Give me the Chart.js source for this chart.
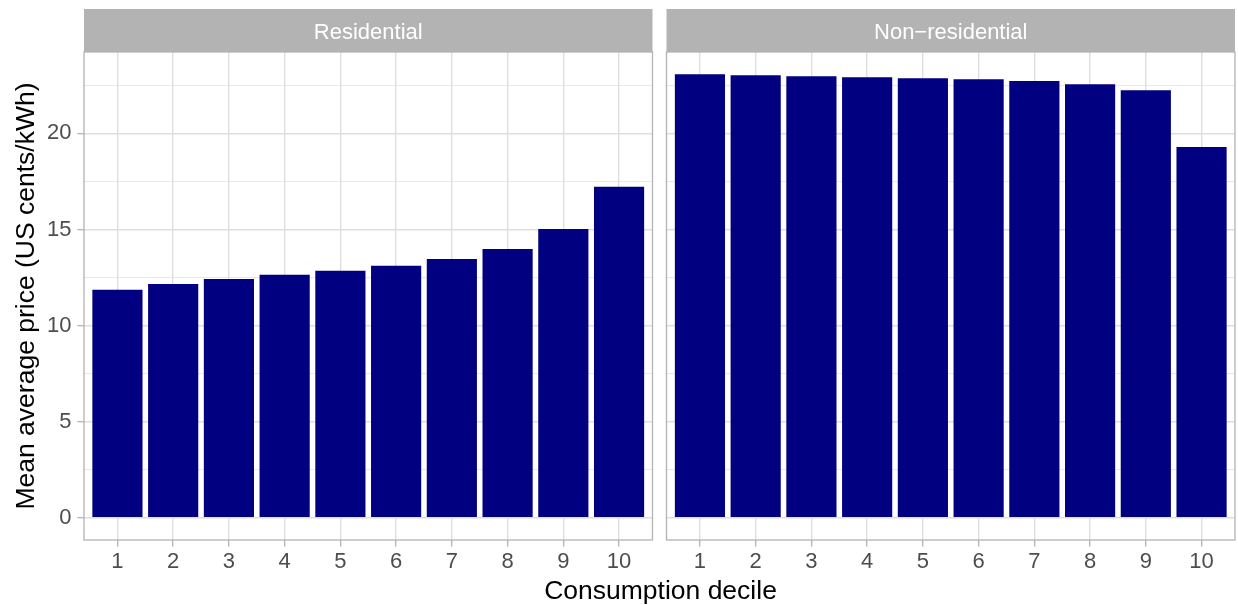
<!DOCTYPE html>
<html>
<head>
<meta charset="utf-8">
<title>Mean average electricity price by consumption decile</title>
<script src="https://cdn.jsdelivr.net/npm/chart.js@4.4.1/dist/chart.umd.min.js"></script>
<style>
  html, body { margin: 0; padding: 0; background: #ffffff; }
  #wrap { position: relative; width: 1238px; height: 605px; overflow: hidden; }
  #wrap canvas { position: absolute; left: 0; top: 0; }
</style>
</head>
<body>
<div id="wrap">
  <canvas id="panelResidential" width="1238" height="605"></canvas>
  <canvas id="panelNonResidential" width="1238" height="605"></canvas>
</div>
<script>
// ---- data -------------------------------------------------------------
const deciles = [1, 2, 3, 4, 5, 6, 7, 8, 9, 10];
const residential = [11.86, 12.17, 12.43, 12.64, 12.85, 13.11, 13.47, 13.99, 15.03, 17.23];
const nonResidential = [23.08, 23.03, 22.97, 22.92, 22.87, 22.82, 22.72, 22.56, 22.25, 19.29];
const panelTitles = ['Residential', 'Non\u2212residential'];
const yMajorTicks = [0, 5, 10, 15, 20];
const yMinorTicks = [2.5, 7.5, 12.5, 17.5, 22.5];
const yTitle = 'Mean average price (US cents/kWh)';
const xTitle = 'Consumption decile';

// ---- look & layout ------------------------------------------------------
const FONT = "'Liberation Sans', Arial, Helvetica, sans-serif";
const BAR = '#000080';
const GRID = '#DEDEDE';
const FRAME = '#B3B3B3';
const TICK_TEXT = '#4D4D4D';

const CANVAS_W = 1238;
const PANEL_TOP = 52;
const STRIP_TOP = 9;
const X_AXIS_H = 65;
const Y_AXIS_W = 84;
const LEFT_PANEL_RIGHT = 652.5;
const RIGHT_PANEL_LEFT = 666.5;
const RIGHT_PANEL_RIGHT = 1235;

// shared y range with ggplot-style 5% expansion
const allValues = residential.concat(nonResidential);
const yTop = Math.max(...allValues);
const yMax = yTop * 1.05;
const yMin = -yTop * 0.05;
const yTicks = yMajorTicks.concat(yMinorTicks).sort((a, b) => a - b);
const isMajor = v => yMajorTicks.includes(v);

// discrete x axis: 0.6 category units of room at each end
const xMin = Math.min(...deciles) - 0.6;
const xMax = Math.max(...deciles) + 0.6;

// panel frame, facet strip and the shared x title
const panelFrame = {
  id: 'panelFrame',
  afterDatasetsDraw(chart, args, opts) {
    const { ctx, chartArea: a } = chart;
    ctx.save();
    // strip
    ctx.fillStyle = FRAME;
    ctx.fillRect(a.left, STRIP_TOP, a.right - a.left, a.top - STRIP_TOP);
    ctx.fillStyle = '#ffffff';
    ctx.font = `22px ${FONT}`;
    ctx.textAlign = 'center';
    ctx.textBaseline = 'alphabetic';
    ctx.fillText(opts.strip, (a.left + a.right) / 2, 38.5);
    // border
    ctx.strokeStyle = FRAME;
    ctx.lineWidth = 1.3;
    ctx.strokeRect(a.left, a.top, a.right - a.left, a.bottom - a.top);
    // shared x title
    if (opts.xTitle) {
      ctx.fillStyle = '#000000';
      ctx.font = `26.5px ${FONT}`;
      ctx.textAlign = 'center';
      ctx.fillText(opts.xTitle, (Y_AXIS_W + RIGHT_PANEL_RIGHT) / 2 + 1, 599);
    }
    ctx.restore();
  }
};

function makePanel(canvasId, values, strip, first) {
  return new Chart(document.getElementById(canvasId), {
    type: 'bar',
    data: {
      datasets: [{
        data: deciles.map((d, i) => ({ x: d, y: values[i] })),
        backgroundColor: BAR,
        borderWidth: 0,
        barPercentage: 0.9,
        categoryPercentage: 1.0
      }]
    },
    options: {
      responsive: false,
      animation: false,
      events: [],
      layout: {
        padding: first
          ? { left: 0, top: PANEL_TOP, right: CANVAS_W - LEFT_PANEL_RIGHT, bottom: 0 }
          : { left: RIGHT_PANEL_LEFT, top: PANEL_TOP, right: CANVAS_W - RIGHT_PANEL_RIGHT, bottom: 0 }
      },
      plugins: {
        legend: { display: false },
        tooltip: { enabled: false },
        title: { display: false },
        panelFrame: { strip: strip, xTitle: first ? xTitle : null }
      },
      scales: {
        x: {
          type: 'linear',
          min: xMin,
          max: xMax,
          offset: false,
          afterBuildTicks: s => { s.ticks = deciles.map(v => ({ value: v })); },
          afterFit: s => { s.height = X_AXIS_H; },
          border: { display: false },
          grid: {
            offset: false,
            color: GRID,
            lineWidth: 1.4,
            drawTicks: true,
            tickLength: 6.5,
            tickWidth: 1.3,
            tickColor: FRAME
          },
          ticks: {
            autoSkip: false,
            maxRotation: 0,
            padding: 2,
            color: TICK_TEXT,
            font: { family: FONT, size: 22 },
            callback: v => String(v)
          }
        },
        y: {
          type: 'linear',
          min: yMin,
          max: yMax,
          afterBuildTicks: s => { s.ticks = yTicks.map(v => ({ value: v })); },
          afterFit: s => { s.width = first ? Y_AXIS_W : 0; },
          border: { display: false },
          grid: {
            color: GRID,
            lineWidth: c => (c.tick && isMajor(c.tick.value)) ? 1.4 : 0.7,
            drawTicks: first,
            tickLength: 6.5,
            tickWidth: 1.3,
            tickColor: c => (c.tick && isMajor(c.tick.value)) ? FRAME : 'rgba(0,0,0,0)'
          },
          ticks: {
            display: first,
            autoSkip: false,
            padding: 6,
            color: TICK_TEXT,
            font: { family: FONT, size: 22 },
            callback: v => isMajor(v) ? String(v) : ''
          },
          title: {
            display: first,
            text: yTitle,
            color: '#000000',
            font: { family: FONT, size: 26.5 },
            padding: { top: 11, bottom: 0 }
          }
        }
      }
    },
    plugins: [panelFrame]
  });
}

makePanel('panelResidential', residential, panelTitles[0], true);
makePanel('panelNonResidential', nonResidential, panelTitles[1], false);
</script>
</body>
</html>
